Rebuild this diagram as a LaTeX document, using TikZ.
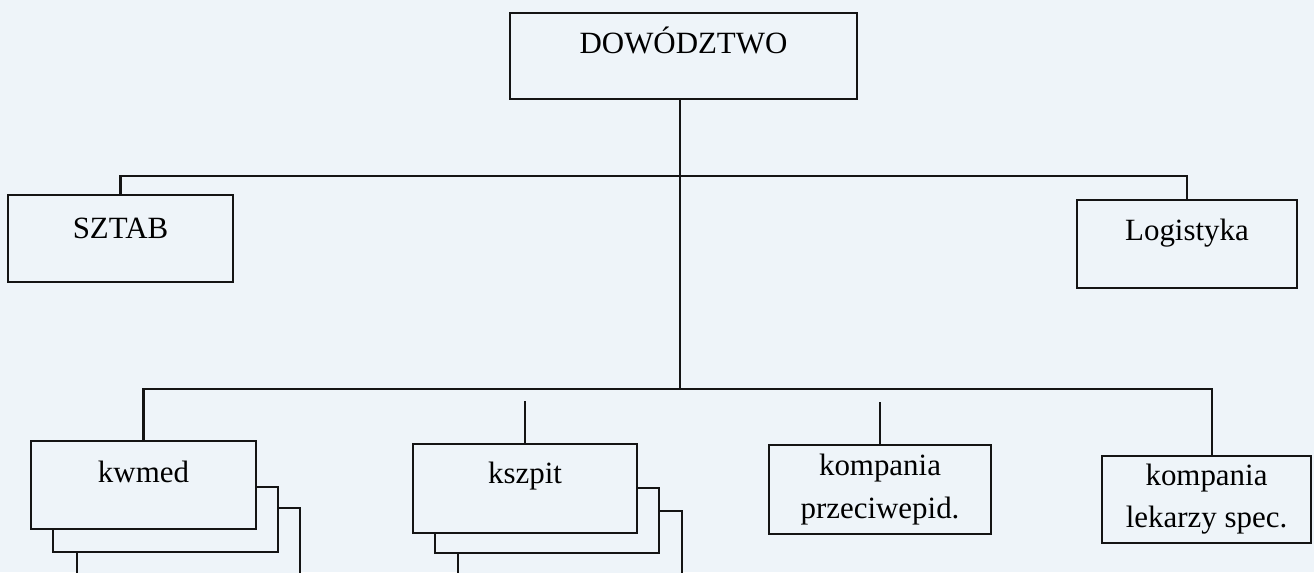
\documentclass[tikz,border=0pt]{standalone}
\usepackage{fontspec}
\setmainfont{Liberation Serif}
\definecolor{paper}{RGB}{238,244,249}
\definecolor{ink}{RGB}{20,20,20}
\tikzset{
  unit/.style={draw=ink, fill=paper, line width=1.25pt, inner sep=0pt,
               minimum width=#1, align=center},
  sheet/.style={draw=ink, fill=paper, line width=1.25pt},
  link/.style={draw=ink, line width=1.25pt}
}

\begin{document}
\begin{tikzpicture}[x=0.02cm, y=-0.02cm, font=\fontsize{17.6}{24}\selectfont]

    \useasboundingbox (0,0) rectangle (1314,572);
    \fill[paper] (0,0) rectangle (1314,572);
    \clip (0,0) rectangle (1314,572);

    % top level
    \node[unit=6.94cm, text height=0.8cm, text depth=0.92cm] (dow) at (683.5,56) {DOWÓDZTWO};
    \node[unit=4.5cm, text height=0.86cm, text depth=0.88cm] (sztab) at (120.5,238.5) {SZTAB};
    \node[unit=4.4cm, text height=0.8cm, text depth=0.96cm] (logistyka) at (1187,244) {Logistyka};

    % stacked units
    \draw[sheet] (77,508) rectangle (300,600);
    \draw[sheet] (53,487) rectangle (278,552);
    \node[unit=4.5cm, text height=0.82cm, text depth=0.94cm] (kwmed) at (143.5,485) {kwmed};

    \draw[sheet] (458,511) rectangle (682,600);
    \draw[sheet] (435,488) rectangle (659,553);
    \node[unit=4.48cm, text height=0.78cm, text depth=1.0cm] (kszpit) at (525,488.5) {kszpit};

    \node[unit=4.44cm, minimum height=1.78cm] (przeciw) at (880,489.5) {kompania\\przeciwepid.};
    \node[unit=4.18cm, minimum height=1.74cm] (lekarzy) at (1206.5,499.5) {kompania\\lekarzy spec.};

    % connectors
    \coordinate (top) at (680,176);
    \coordinate (mid) at (680,389);
    \coordinate (lowR) at (1212,389);
    \coordinate (kszpitEnd) at (525,401);
    \coordinate (przeciwEnd) at (880,402);

    \draw[link] (dow.south -| top) -- (mid);
    \draw[link] (sztab.north) |- (top) -| (logistyka.north);
    \draw[link] (kwmed.north) |- (mid) -- (lowR) -- (lowR |- lekarzy.north);
    \draw[link] (kszpitEnd) -- (kszpit.north);
    \draw[link] (przeciwEnd) -- (przeciw.north);

\end{tikzpicture}
\end{document}
